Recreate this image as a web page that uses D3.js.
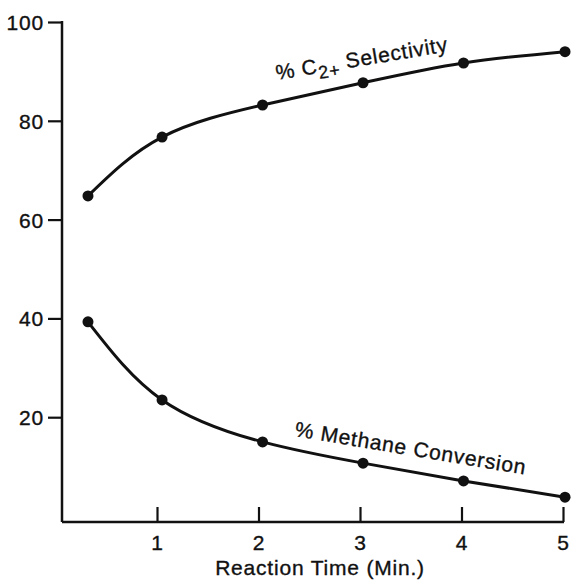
<!DOCTYPE html>
<html>
<head>
<meta charset="utf-8">
<script src="https://cdn.jsdelivr.net/npm/d3@7"></script>
<style>
  body { margin: 0; background: #fff; }
  text { font-family: "Liberation Sans", Arial, sans-serif; fill: #111; stroke: #111; stroke-width: 0.35px; letter-spacing: 0.8px; }
</style>
</head>
<body>
<div id="chart"></div>
<script>
// reaction time in minutes (as plotted, points sit a hair right of the ticks)
var times = [0.32, 1.05, 2.04, 3.03, 4.02, 5.02];
// % C2+ selectivity
var selectivity = [64.8, 76.7, 83.2, 87.7, 91.7, 94];
// % methane conversion
var conversion = [39.3, 23.5, 15, 10.7, 7.1, 3.8];
var yTicks = [20, 40, 60, 80, 100];
var xTicks = [1, 2, 3, 4, 5];

var width = 572, height = 580;
var svg = d3.select("#chart").append("svg")
    .attr("width", width).attr("height", height);

var x = d3.scaleLinear().domain([0, 5]).range([55.5, 563]);
var y = d3.scaleLinear().domain([0, 100]).range([516, 22]);
var x0 = 62, yBase = 522;

// y axis
var yAxis = svg.append("g").attr("transform", "translate(" + x0 + ",0)")
    .call(d3.axisLeft(y).tickValues(yTicks).tickSize(14).tickPadding(4));
yAxis.select(".domain").remove();
yAxis.selectAll("line").attr("stroke", "#111").attr("stroke-width", 2.2);
yAxis.selectAll("text").style("font-size", "21px").attr("dy", "0.36em");
svg.append("line").attr("x1", x0).attr("x2", x0)
    .attr("y1", y(100) - 1).attr("y2", yBase)
    .attr("stroke", "#111").attr("stroke-width", 2.5);

// x axis (ticks point inward)
var xAxis = svg.append("g").attr("transform", "translate(0," + yBase + ")")
    .call(d3.axisBottom(x).tickValues(xTicks).tickSize(0).tickPadding(13).tickFormat(d3.format("d")));
xAxis.select(".domain").remove();
xAxis.selectAll(".tick line").attr("y2", -15).attr("stroke", "#111").attr("stroke-width", 2.2);
xAxis.selectAll("text").style("font-size", "21px");
svg.append("line").attr("x1", x0).attr("x2", x(5) + 1)
    .attr("y1", yBase).attr("y2", yBase)
    .attr("stroke", "#111").attr("stroke-width", 2.5);

svg.append("text").attr("x", 320).attr("y", 575)
    .attr("text-anchor", "middle").style("font-size", "21px")
    .text("Reaction Time (Min.)");

// curves
var line = d3.line().x(function(d) { return x(d[0]); })
    .y(function(d) { return y(d[1]); })
    .curve(d3.curveNatural);

[selectivity, conversion].forEach(function(vals) {
    var pts = times.map(function(t, i) { return [t, vals[i]]; });
    svg.append("path").datum(pts).attr("d", line)
        .attr("fill", "none").attr("stroke", "#111").attr("stroke-width", 3);
    svg.selectAll(null).data(pts).enter().append("circle")
        .attr("cx", function(d) { return x(d[0]); })
        .attr("cy", function(d) { return y(d[1]); })
        .attr("r", 5.5).attr("fill", "#111");
});

// curve labels
var lab1 = svg.append("text")
    .attr("transform", "translate(277,80) rotate(-9.5)")
    .style("font-size", "21px");
lab1.append("tspan").text("% C");
lab1.append("tspan").attr("dy", 6).style("font-size", "18px").text("2+");
lab1.append("tspan").attr("dy", -6).text(" Selectivity");

svg.append("text")
    .attr("transform", "translate(294,436) rotate(9.5)")
    .style("font-size", "21px")
    .text("% Methane Conversion");
</script>
</body>
</html>
